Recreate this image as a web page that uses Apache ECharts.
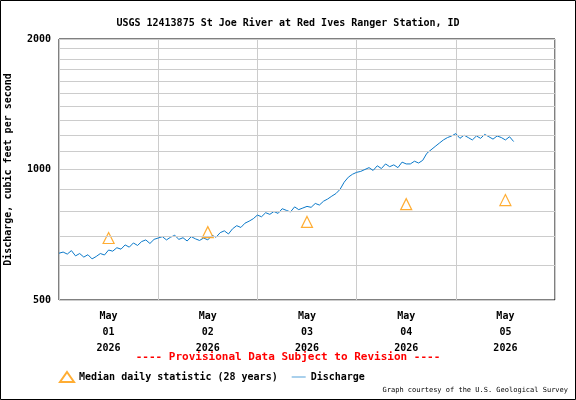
<!DOCTYPE html>
<html><head><meta charset="utf-8">
<script src="https://cdn.jsdelivr.net/npm/echarts@6/dist/echarts.min.js"></script>
<style>html,body{margin:0;padding:0;background:#fff}#c{width:576px;height:400px}</style>
</head><body><div id="c"></div>
<script>
// hourly discharge, hours since May 01 00:00
const discharge = [
  641,645,638,650,632,640,628,636,622,630,640,635,652,
  648,660,655,670,662,677,668,682,688,675,690,695,
  700,688,698,705,690,696,684,700,692,686,695,688,
  705,698,715,722,710,730,742,735,752,760,770,785,
  778,795,788,800,792,812,805,798,820,808,815,822,
  818,835,828,845,855,868,880,900,935,960,975,985,
  990,1000,1010,995,1020,1005,1030,1015,1025,1010,1040,1030,
  1030,1045,1035,1050,1090,1110,1130,1150,1170,1185,1195,1210,
  1180,1200,1185,1170,1195,1180,1205,1190,1175,1195,1185,1170,1190,1160
];
const medianHours = [12, 36, 60, 84, 108];
const medianValues = [695, 717, 757, 832, 850];
const dayLabels = ['May\n01\n2026', 'May\n02\n2026', 'May\n03\n2026', 'May\n04\n2026', 'May\n05\n2026'];
const gridValues = [600, 700, 800, 900, 1100, 1200, 1300, 1400, 1500, 1600, 1700, 1800, 1900];

const font = 'DejaVu Sans Mono';
const lbl = {fontFamily: font, fontSize: 10, fontWeight: 'bold', color: '#000'};
const chart = echarts.init(document.getElementById('c'));
chart.setOption({
  animation: false,
  textStyle: {fontFamily: font},
  title: {text: 'USGS 12413875 St Joe River at Red Ives Ranger Station, ID', left: 'center', top: 13,
    textStyle: lbl},
  grid: {left: 59, right: 21, top: 39, bottom: 100, containLabel: false, outerBoundsMode: 'none',
    show: true, borderColor: '#000', borderWidth: 1},
  legend: {left: 54, top: 366, itemGap: 14, itemWidth: 14, itemHeight: 10,
    textStyle: lbl,
    data: [{name: 'Median daily statistic (28 years)', icon: 'triangle'}, {name: 'Discharge', icon: 'path://M0,5L20,5L20,6L0,6Z'}]},
  xAxis: {type: 'value', min: 0, max: 120, interval: 24,
    axisLine: {show: false}, axisTick: {show: false},
    splitLine: {lineStyle: {color: '#ccc'}},
    axisLabel: Object.assign({customValues: medianHours, formatter: v => dayLabels[medianHours.indexOf(v)],
      lineHeight: 16, margin: 8}, lbl)},
  yAxis: {type: 'log', logBase: 2, min: 500, max: 2000, interval: 1,
    name: 'Discharge, cubic feet per second', nameLocation: 'middle', nameGap: 46,
    nameTextStyle: lbl,
    axisLine: {show: false}, axisTick: {show: false},
    splitLine: {lineStyle: {color: '#ccc'}},
    axisLabel: Object.assign({formatter: v => String(Math.round(v / 100) * 100), margin: 8}, lbl)},
  series: [
    {name: 'Median daily statistic (28 years)', type: 'scatter', symbol: 'triangle', symbolSize: 11,
      itemStyle: {color: '#fff', borderColor: '#f90', borderWidth: 1.2},
      data: medianHours.map((h, i) => [h, medianValues[i]]), z: 3},
    {name: 'Discharge', type: 'line', showSymbol: false, lineStyle: {color: '#0b79c9', width: 1},
      itemStyle: {color: '#0b79c9'},
      data: discharge.map((v, i) => [i, v]),
      markLine: {silent: true, symbol: 'none', label: {show: false},
        lineStyle: {color: '#ccc', type: 'solid', width: 1},
        data: gridValues.map(v => ({yAxis: v}))}}
  ],
  graphic: [
    {type: 'rect', shape: {x: 0.5, y: 0.5, width: 575, height: 399}, style: {fill: 'none', stroke: '#000', lineWidth: 1}, silent: true},
    {type: 'text', left: 'center', top: 352, style: {text: '---- Provisional Data Subject to Revision ----',
      font: 'bold 11px "DejaVu Sans Mono"', fill: '#f00'}},
    {type: 'text', right: 8, top: 387, style: {text: 'Graph courtesy of the U.S. Geological Survey',
      font: '7px "DejaVu Sans Mono"', fill: '#000'}}
  ]
});
</script></body></html>
